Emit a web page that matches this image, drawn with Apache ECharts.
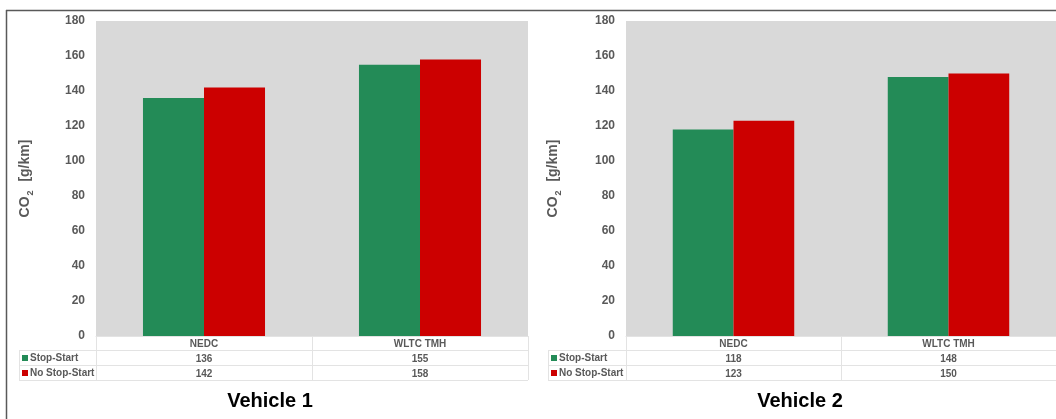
<!DOCTYPE html>
<html>
<head>
<meta charset="utf-8">
<script src="https://cdn.jsdelivr.net/npm/echarts@6/dist/echarts.min.js"></script>
<style>
html,body{margin:0;padding:0;background:#fff;}
#c{width:1056px;height:419px;}
</style>
</head>
<body>
<div id="c"></div>
<script>
// ---- data ----
const categories = ['NEDC', 'WLTC TMH'];
const seriesNames = ['Stop-Start', 'No Stop-Start'];
const v1StopStart = [136, 155];
const v1NoStopStart = [142, 158];
const v2StopStart = [118, 148];
const v2NoStopStart = [123, 150];
const panelTitles = ['Vehicle 1', 'Vehicle 2'];
const yMin = 0, yMax = 180, yStep = 20;

// ---- styles ----
const GREEN = '#238B57', RED = '#CC0000', GREY_TXT = '#595959', LINE = '#e3e3e3';
const FONT = 'Liberation Sans, Arial, sans-serif';

const chart = echarts.init(document.getElementById('c'), null, {renderer: 'canvas'});

const panels = [
  {grid: {left: 96, top: 21, width: 432, height: 315}, tableLeft: 19, ss: v1StopStart, nss: v1NoStopStart, nameGap: 64, titleX: 270},
  {grid: {left: 626, top: 21, width: 430, height: 315}, tableLeft: 548, ss: v2StopStart, nss: v2NoStopStart, nameGap: 66, titleX: 800}
];

const grids = [], xAxes = [], yAxes = [], series = [], legends = [], graphics = [];

panels.forEach((p, i) => {
  grids.push(Object.assign({backgroundColor: '#d9d9d9', show: true, borderWidth: 0, containLabel: false, outerBoundsMode: 'none'}, p.grid));
  const base = xAxes.length;
  // category axis (header row)
  xAxes.push({
    type: 'category', gridIndex: i, data: categories, position: 'bottom',
    axisLine: {show: true, lineStyle: {color: LINE, width: 1}},
    axisTick: {show: true, length: 44, lineStyle: {color: LINE}},
    axisLabel: {margin: 3, color: GREY_TXT, fontWeight: 'bold', fontSize: 10, fontFamily: FONT},
    splitLine: {show: false}
  });
  // table rows as label-only category axes
  [p.ss, p.nss].forEach((vals, r) => {
    xAxes.push({
      type: 'category', gridIndex: i, data: vals.map(String), position: 'bottom', offset: 15 * (r + 1),
      axisLine: {show: false}, axisTick: {show: false},
      axisLabel: {margin: 3, color: GREY_TXT, fontWeight: 'bold', fontSize: 10, fontFamily: FONT},
      splitLine: {show: false}
    });
  });
  yAxes.push({
    type: 'value', gridIndex: i, min: yMin, max: yMax, interval: yStep,
    axisLine: {show: false}, axisTick: {show: false}, splitLine: {show: false},
    axisLabel: {margin: 11, color: GREY_TXT, fontWeight: 'bold', fontSize: 12, fontFamily: FONT},
    name: '{a|CO}{s|2}{a|  [g/km]}', nameLocation: 'middle', nameRotate: 90, nameGap: p.nameGap,
    nameTextStyle: {
      color: GREY_TXT, fontFamily: FONT,
      rich: {
        a: {fontSize: 14, fontWeight: 'bold', color: GREY_TXT, fontFamily: FONT, lineHeight: 16, verticalAlign: 'bottom'},
        s: {fontSize: 9, fontWeight: 'bold', color: GREY_TXT, fontFamily: FONT, lineHeight: 12, verticalAlign: 'bottom', padding: [0, 1, -3, 1]}
      }
    }
  });
  series.push({
    name: seriesNames[0], type: 'bar', xAxisIndex: base, yAxisIndex: i, data: p.ss,
    itemStyle: {color: GREEN}, barGap: '0%', barCategoryGap: '43.5%'
  });
  series.push({
    name: seriesNames[1], type: 'bar', xAxisIndex: base, yAxisIndex: i, data: p.nss,
    itemStyle: {color: RED}, barGap: '0%', barCategoryGap: '43.5%'
  });
  legends.push({
    data: seriesNames, orient: 'vertical', left: p.tableLeft + 3, top: 352, padding: 0,
    itemWidth: 6, itemHeight: 6, itemGap: 3, icon: 'rect', selectedMode: false,
    textStyle: {color: GREY_TXT, fontWeight: 'bold', fontSize: 10, fontFamily: FONT, lineHeight: 12, padding: [0, 0, 0, -3]}
  });
  // table grid lines
  const x0 = p.tableLeft, x1 = p.grid.left + p.grid.width;
  [350, 365, 380].forEach(y => graphics.push({type: 'line', shape: {x1: x0, y1: y + 0.5, x2: x1, y2: y + 0.5}, style: {stroke: LINE, lineWidth: 1}, silent: true, z: 10}));
  graphics.push({type: 'line', shape: {x1: x0 + 0.5, y1: 350, x2: x0 + 0.5, y2: 380}, style: {stroke: LINE, lineWidth: 1}, silent: true, z: 10});
  // panel title
  graphics.push({type: 'text', x: p.titleX, y: 401, style: {text: panelTitles[i], fill: '#000', font: 'bold 20px ' + FONT, textAlign: 'center', textVerticalAlign: 'middle'}, z: 10});
});

// panel frame
graphics.push({type: 'line', shape: {x1: 6, y1: 10.5, x2: 1056, y2: 10.5}, style: {stroke: '#595959', lineWidth: 1.5}, silent: true, z: 20});
graphics.push({type: 'line', shape: {x1: 6.5, y1: 10, x2: 6.5, y2: 419}, style: {stroke: '#595959', lineWidth: 1.5}, silent: true, z: 20});

chart.setOption({
  animation: false,
  backgroundColor: '#fff',
  grid: grids, xAxis: xAxes, yAxis: yAxes, series: series, legend: legends,
  graphic: graphics
});
</script>
</body>
</html>
